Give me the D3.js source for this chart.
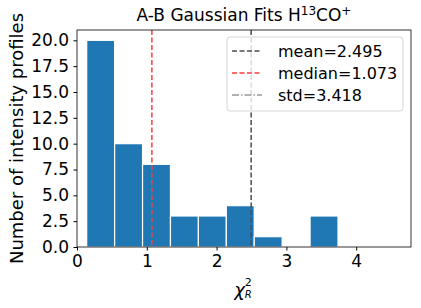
<!DOCTYPE html>
<html>
<head>
<meta charset="utf-8">
<script src="https://cdn.jsdelivr.net/npm/d3@7"></script>
<style>
  body { margin: 0; background: #fff; }
  text { font-family: "DejaVu Sans", sans-serif; }
</style>
</head>
<body>
<div id="chart"></div>
<script>
// histogram bins (left edges) and counts
const binStarts = [0.139, 0.539, 0.939, 1.339, 1.739, 2.139, 2.539, 2.939, 3.339];
const binWidth = 0.4;
const counts = [20, 10, 8, 3, 3, 4, 1, 0, 3];
const xTicks = [0, 1, 2, 3, 4];
const yTicks = [0, 2.5, 5, 7.5, 10, 12.5, 15, 17.5, 20];
const stats = [
    { label: 'mean=2.495', value: 2.495, color: '#4d4d4d', dash: '5,2.5', show: true },
    { label: 'median=1.073', value: 1.073, color: '#ff3c3c', dash: '5,2.5', show: true },
    { label: 'std=3.418', value: 3.418, color: '#999999', dash: '7,2,1.5,2', show: false }
];

const W = 421, H = 308;
const m = { left: 77, right: 10, top: 30, bottom: 61 };

const svg = d3.select('#chart').append('svg')
    .attr('width', W).attr('height', H);

const x = d3.scaleLinear().domain([0, 4.785]).range([m.left, W - m.right]);
const y = d3.scaleLinear().domain([0, 21]).range([H - m.bottom, m.top]);

// bars
svg.selectAll('.bar')
    .data(counts.map((c, i) => ({ x0: binStarts[i], x1: binStarts[i] + binWidth, c: c })))
    .enter().append('rect')
    .attr('class', 'bar')
    .attr('x', d => x(d.x0))
    .attr('width', d => x(d.x1) - x(d.x0))
    .attr('y', d => y(d.c))
    .attr('height', d => y(0) - y(d.c))
    .attr('fill', '#1f77b4')
    .attr('stroke', '#fff')
    .attr('stroke-width', 1.2);

// vertical stat lines
svg.selectAll('.vline')
    .data(stats.filter(s => s.show))
    .enter().append('line')
    .attr('x1', d => x(d.value)).attr('x2', d => x(d.value))
    .attr('y1', y.range()[1]).attr('y2', y.range()[0])
    .attr('stroke', d => d.color)
    .attr('stroke-width', 1.5)
    .attr('stroke-dasharray', d => d.dash);

// axes
const xAxis = svg.append('g')
    .attr('transform', `translate(0,${y(0)})`)
    .call(d3.axisBottom(x).tickValues(xTicks).tickFormat(d3.format('d')).tickSize(3.5).tickPadding(4));
const yAxis = svg.append('g')
    .attr('transform', `translate(${m.left},0)`)
    .call(d3.axisLeft(y).tickValues(yTicks).tickFormat(d3.format('.1f')).tickSize(3.5).tickPadding(4.5));
[xAxis, yAxis].forEach(a => {
    a.selectAll('text').style('font-size', '17px').attr('fill', '#000');
    a.selectAll('line').attr('stroke', '#000');
    a.select('.domain').remove();
});

// frame
svg.append('rect')
    .attr('x', m.left).attr('y', m.top)
    .attr('width', W - m.right - m.left)
    .attr('height', H - m.bottom - m.top)
    .attr('fill', 'none').attr('stroke', '#000').attr('stroke-width', 0.8);

// title
const title = svg.append('text')
    .attr('x', (m.left + W - m.right) / 2).attr('y', 21)
    .attr('text-anchor', 'middle')
    .style('font-size', '17px');
title.append('tspan').text('A-B Gaussian Fits H');
title.append('tspan').text('13').attr('dy', -6).style('font-size', '12px');
title.append('tspan').text('CO').attr('dy', 6);
title.append('tspan').text('+').attr('dy', -6).style('font-size', '12px');

// x label
const xl = svg.append('text')
    .attr('x', 243).attr('y', 296)
    .attr('text-anchor', 'middle')
    .style('font-size', '18px');
xl.append('tspan').text('χ').style('font-style', 'italic');
xl.append('tspan').text('2').attr('dy', -10).style('font-size', '11px');
xl.append('tspan').text('R').attr('dx', -7).attr('dy', 12).style('font-size', '10px').style('font-style', 'italic');

// y label
svg.append('text')
    .attr('transform', `translate(23,${(m.top + H - m.bottom) / 2}) rotate(-90)`)
    .attr('text-anchor', 'middle')
    .style('font-size', '18px')
    .text('Number of intensity profiles');

// legend
const lg = svg.append('g').attr('transform', 'translate(227,37)');
lg.append('rect')
    .attr('width', 176).attr('height', 74).attr('rx', 3)
    .attr('fill', '#fff').attr('fill-opacity', 0.8)
    .attr('stroke', '#cccccc').attr('stroke-width', 0.8);
stats.forEach((s, i) => {
    const cy = 14 + i * 22;
    lg.append('line')
        .attr('x1', 5).attr('x2', 35).attr('y1', cy).attr('y2', cy)
        .attr('stroke', s.color).attr('stroke-width', 1.5)
        .attr('stroke-dasharray', s.dash);
    lg.append('text')
        .attr('x', 51).attr('y', cy + 5.5)
        .style('font-size', '16px')
        .text(s.label);
});
</script>
</body>
</html>
